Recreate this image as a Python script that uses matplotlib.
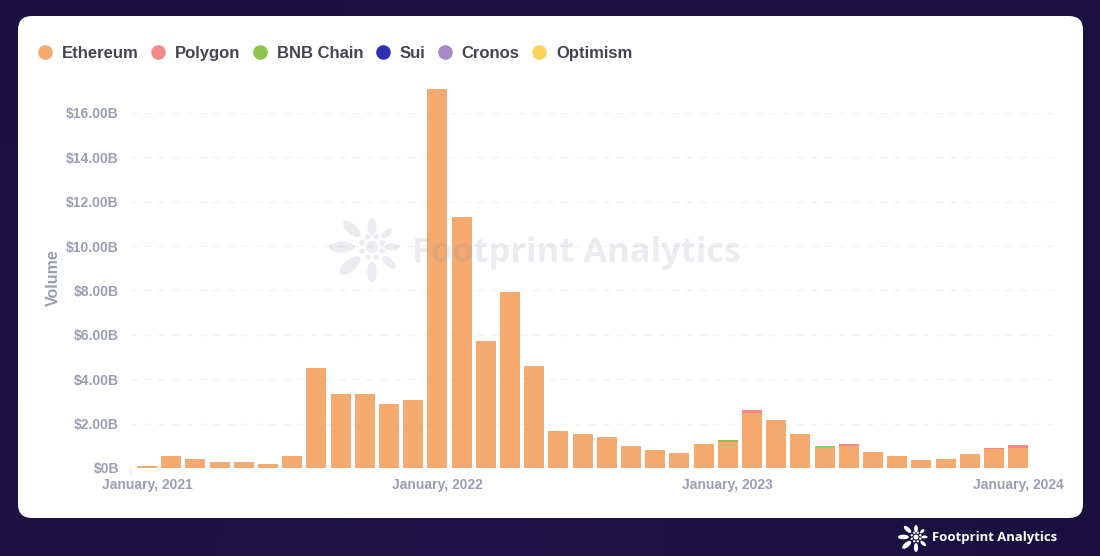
"""Monthly volume by chain, stacked bars on a white card with Footprint branding."""

import matplotlib

matplotlib.use("Agg")

import matplotlib.pyplot as plt
import numpy as np
from matplotlib.lines import Line2D
from matplotlib.patches import Circle, Ellipse, FancyBboxPatch

FIG_W, FIG_H = 1100, 556

# volumes in $B, one value per month from January 2021 to January 2024
ethereum = [
    0.07, 0.53, 0.42, 0.27, 0.27, 0.20, 0.53, 4.50, 3.35, 3.35, 2.87, 3.08,
    17.10, 11.30, 5.72, 7.95, 4.60, 1.67, 1.52, 1.40, 1.00, 0.80, 0.68, 1.10,
    1.18, 2.50, 2.15, 1.52, 0.93, 1.00, 0.72, 0.53, 0.37, 0.42, 0.62, 0.86,
    0.92,
]
polygon = [0.0] * 25 + [0.11, 0.0, 0.0, 0.0, 0.06, 0.0, 0.0, 0.0, 0.0, 0.0, 0.06, 0.11]
bnb_chain = [0.0] * 24 + [0.08, 0.0, 0.0, 0.0, 0.08, 0.0, 0.0, 0.0, 0.0, 0.0, 0.0, 0.0, 0.0]
sui = [0.0] * 37
cronos = [0.0] * 37
optimism = [0.0] * 37

series_names = ["Ethereum", "Polygon", "BNB Chain", "Sui", "Cronos", "Optimism"]
series_values = [ethereum, polygon, bnb_chain, sui, cronos, optimism]
series_colors = ["#f4a96f", "#f28b88", "#8bc34f", "#2f2fb3", "#a688c9", "#fad25c"]

y_ticks = [0, 2, 4, 6, 8, 10, 12, 14, 16]
y_labels = ["$0B", "$2.00B", "$4.00B", "$6.00B", "$8.00B", "$10.00B", "$12.00B", "$14.00B", "$16.00B"]
x_ticks = [0, 12, 24, 36]
x_labels = ["January, 2021", "January, 2022", "January, 2023", "January, 2024"]

# logo petals: angle (deg), distance, length, width
petals = [
    (180, 30, 26, 11), (222, 27, 22, 10), (270, 20, 17, 9), (317, 20, 13, 7),
    (0, 20, 15, 7), (42, 23, 17, 8), (90, 25, 21, 10), (140, 29, 26, 12),
]

TICK_COLOR = "#9a9eb3"
BG_COLOR = "#1a1040"


def draw_logo(ax, cx, cy, scale, color, alpha=1.0):
    for angle, dist, length, width in petals:
        a = np.radians(angle)
        ax.add_patch(Ellipse(
            (cx + dist * scale * np.cos(a), cy + dist * scale * np.sin(a)),
            length * scale, width * scale, angle=angle,
            facecolor=color, edgecolor="none", alpha=alpha,
        ))
    ax.add_patch(Circle((cx, cy), 6 * scale, facecolor=color, edgecolor="none", alpha=alpha))
    for angle in range(22, 360, 45):
        a = np.radians(angle)
        ax.add_patch(Circle(
            (cx + 11 * scale * np.cos(a), cy + 11 * scale * np.sin(a)),
            2.8 * scale, facecolor=color, edgecolor="none", alpha=alpha,
        ))


def pixel_axes(fig, zorder):
    ax = fig.add_axes([0, 0, 1, 1], zorder=zorder)
    ax.set_xlim(0, FIG_W)
    ax.set_ylim(FIG_H, 0)
    ax.axis("off")
    return ax


plt.rcParams["font.family"] = ["Liberation Sans", "DejaVu Sans"]
plt.rcParams["font.weight"] = "bold"

fig = plt.figure(figsize=(FIG_W / 100, FIG_H / 100), dpi=100, facecolor=BG_COLOR)

# background and card
bg = pixel_axes(fig, 0)
glow = np.array([[0.0, 0.1, 0.1], [0.3, 0.6, 0.0]])
bg.imshow(glow, extent=(0, FIG_W, FIG_H, 0), aspect="auto", interpolation="bicubic", vmin=0, vmax=1,
          cmap=matplotlib.colors.LinearSegmentedColormap.from_list("bg", ["#191040", "#2a1850"]))
bg.set_xlim(0, FIG_W)
bg.set_ylim(FIG_H, 0)
bg.add_patch(FancyBboxPatch((18, 16), 1065, 502, boxstyle="round,pad=0,rounding_size=14",
                            facecolor="white", edgecolor="none"))

# chart area: x runs in months, y in $B
ax = fig.add_axes([130 / FIG_W, (FIG_H - 468) / FIG_H, 932 / FIG_W, 400 / FIG_H], zorder=1)
ax.patch.set_alpha(0)
months = np.arange(len(ethereum))
bottom = np.zeros(len(months))
for name, values, color in zip(series_names, series_values, series_colors):
    values = np.array(values)
    mask = values > 0
    ax.bar(months[mask], values[mask], width=0.83, bottom=bottom[mask], color=color,
           edgecolor="none", zorder=3)
    bottom += values

ax.set_xlim(-0.70, 37.81)
ax.set_ylim(0, 400 / 22.19)
ax.set_yticks(y_ticks, y_labels)
ax.set_xticks(x_ticks, x_labels)
ax.set_xticks([-0.70], minor=True)
ax.tick_params(axis="both", which="major", length=0, colors=TICK_COLOR, labelsize=10)
ax.tick_params(axis="x", which="major", pad=7)
ax.tick_params(axis="y", which="major", pad=8)
ax.tick_params(axis="x", which="minor", length=5, width=0.8, color="#e8e8ec")
ax.grid(axis="y", color="#f1f2f4", linestyle=(0, (5, 5)), linewidth=1, zorder=0)
for spine in ax.spines.values():
    spine.set_visible(False)
ax.set_ylabel("Volume", color=TICK_COLOR, fontsize=11.5, fontweight="bold")
ax.yaxis.set_label_coords((61 - 130) / 932, (468 - 278) / 400)

handles = [
    Line2D([], [], linestyle="none", marker="o", markersize=10.5, color=c, markeredgewidth=0)
    for c in series_colors
]
fig.legend(handles, series_names, loc="upper left", bbox_to_anchor=(37 / FIG_W, 1 - 46 / FIG_H),
           ncol=6, frameon=False, fontsize=12, labelcolor="#44444f", borderpad=0, borderaxespad=0,
           handlelength=1.0, handletextpad=0.5, columnspacing=0.68)

# branding
over = pixel_axes(fig, 2)
draw_logo(over, 372, 247, 1.0, "#8a93a6", alpha=0.17)
over.text(412, 253, "Footprint Analytics", family="Open Sans", fontsize=24.8, fontweight="bold",
          color="#8a93a6", alpha=0.17, ha="left", va="center")
draw_logo(over, 916, 537, 0.42, "white")
over.text(932, 538, "Footprint Analytics", family="Open Sans", fontsize=9.45, fontweight="bold",
          color="white", ha="left", va="center")

fig.savefig("out.png", dpi=100, facecolor=fig.get_facecolor())
plt.close(fig)
